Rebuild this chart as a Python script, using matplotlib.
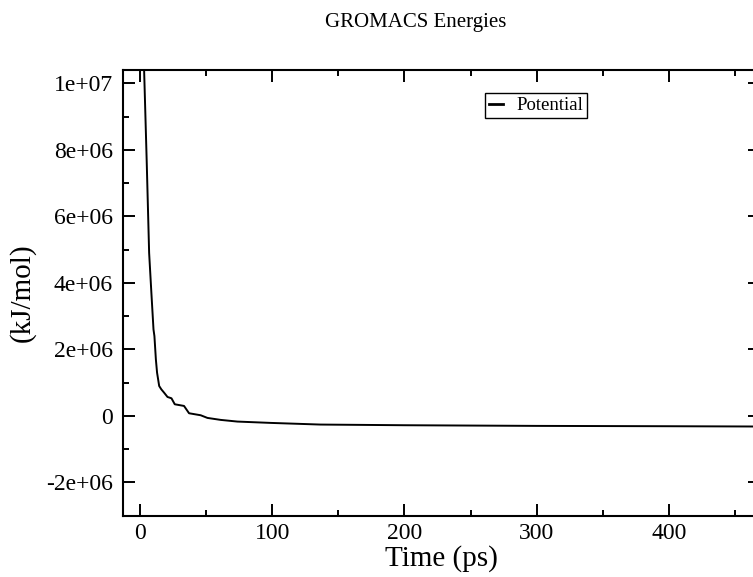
import matplotlib
matplotlib.use("Agg")
import matplotlib.pyplot as plt
from matplotlib.ticker import MultipleLocator

plt.rcParams['font.family'] = ['Liberation Serif', 'DejaVu Serif']

# data
time_ps = [0, 2, 3, 5, 6.8, 8.5, 10.1, 10.8, 11.9, 12.8, 14.4, 16, 18.1, 20.7,
           23.7, 26.2, 33.2, 37.0, 45.8, 50.9, 61, 73.6, 98.7, 136.5, 200,
           300, 400, 480]
potential = [1.8e7, 1.2e7, 1.04e7, 7.6e6, 4.9e6, 3.7e6, 2.6e6, 2.4e6, 1.7e6,
             1.3e6, 0.9e6, 0.8e6, 0.7e6, 0.57e6, 0.53e6, 0.35e6, 0.30e6,
             0.08e6, 0.02e6, -0.06e6, -0.12e6, -0.17e6, -0.21e6, -0.26e6,
             -0.28e6, -0.30e6, -0.31e6, -0.32e6]

fig = plt.figure(figsize=(7.53, 5.77), dpi=100)
# axes run past the right edge like the cropped original
ax = fig.add_axes([122.7 / 753, 1 - 515.7 / 577, (760 - 122.7) / 753, (515.7 - 70) / 577])

ax.plot(time_ps, potential, color='black', linewidth=1.4, label='Potential')

ax.set_xlim(-13.2, 469)
ax.set_ylim(-3e6, 1.04e7)
ax.xaxis.set_major_locator(MultipleLocator(100))
ax.xaxis.set_minor_locator(MultipleLocator(50))
ax.yaxis.set_major_locator(MultipleLocator(2e6))
ax.yaxis.set_minor_locator(MultipleLocator(1e6))

ylabels = {1e7: '1e+07', 8e6: '8e+06', 6e6: '6e+06', 4e6: '4e+06', 2e6: '2e+06',
           0: '0', -2e6: '-2e+06'}
ax.yaxis.set_major_formatter(plt.FuncFormatter(lambda v, p: ylabels.get(round(v), '')))

for s in ax.spines.values():
    s.set_linewidth(1.5)
ax.tick_params(which='both', direction='in', top=True, right=True, width=1.4, labelsize=17)
ax.tick_params(which='major', length=8.6)
ax.tick_params(which='minor', length=4.3)
ax.tick_params(axis='y', pad=7)
ax.tick_params(axis='x', pad=5)

fig.text(441 / 753, 1 - 566 / 577, 'Time (ps)', fontsize=21, ha='center', va='baseline')
fig.text(22 / 753, 1 - 293 / 577, '(kJ/mol)', fontsize=21, rotation=90, ha='center', va='center')
fig.text(416 / 753, 1 - 22 / 577, 'GROMACS Energies', fontsize=15, ha='center', va='center')

leg = ax.legend(loc='upper left', bbox_to_anchor=(485 / 753, 1 - 93 / 577),
                bbox_transform=fig.transFigure, fontsize=13.5, frameon=True,
                fancybox=False, framealpha=1, edgecolor='black',
                handlelength=0.75, handletextpad=0.7, borderpad=0.22,
                borderaxespad=0)
leg.get_frame().set_linewidth(1.0)
for h in leg.get_lines():
    h.set_linewidth(2)

fig.savefig('out.png', dpi=100)
